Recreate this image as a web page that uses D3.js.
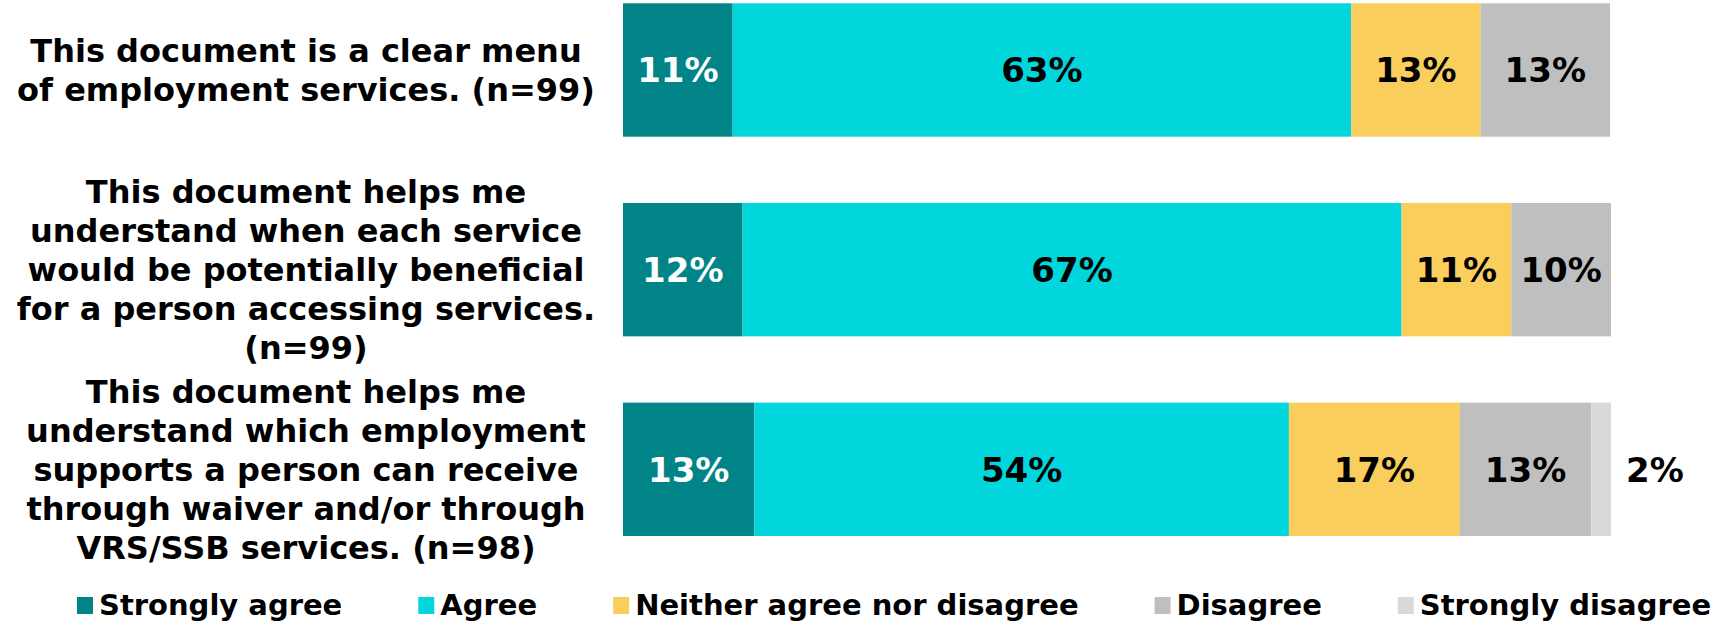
<!DOCTYPE html>
<html>
<head>
<meta charset="utf-8">
<script src="https://cdnjs.cloudflare.com/ajax/libs/d3/7.8.5/d3.min.js"></script>
<style>
  body { margin: 0; background: #fff; }
  text { font-family: "DejaVu Sans", Verdana, sans-serif; font-weight: bold; }
</style>
</head>
<body>
<div id="chart"></div>
<script>
var svgWidth = 1720;
var svgHeight = 622;

// question text, one array of lines for each bar
var questions = [
  ["This document is a clear menu", "of employment services. (n=99)"],
  ["This document helps me", "understand when each service", "would be potentially beneficial",
   "for a person accessing services.", "(n=99)"],
  ["This document helps me", "understand which employment", "supports a person can receive",
   "through waiver and/or through", "VRS/SSB services. (n=98)"]
];

var seriesNames = ["Strongly agree", "Agree", "Neither agree nor disagree", "Disagree", "Strongly disagree"];
var seriesColors = ["#008487", "#00D6DB", "#FACE5C", "#BFBFBF", "#D9D9D9"];
var labelColors = ["#ffffff", "#000000", "#000000", "#000000", "#000000"];

// percent of respondents, one value per question
var stronglyAgree = [11.1, 12.1, 13.3];
var agree = [62.6, 66.7, 54.1];
var neither = [13.1, 11.1, 17.3];
var disagree = [13.1, 10.1, 13.3];
var stronglyDisagree = [0, 0, 2.0];

var seriesValues = [stronglyAgree, agree, neither, disagree, stronglyDisagree];

// rows for d3.stack
var rows = questions.map((q, i) => {
  var row = { q: i };
  seriesNames.forEach((name, j) => { row[name] = seriesValues[j][i]; });
  return row;
});

var svg = d3.select("#chart")
  .append("svg")
  .attr("width", svgWidth)
  .attr("height", svgHeight);

var xScale = d3.scaleLinear()
  .domain([0, 100])
  .range([623, 1611]);

var yScale = d3.scaleBand()
  .domain(d3.range(questions.length))
  .range([3.3, 536])
  .paddingInner(0.332)
  .paddingOuter(0);

var stacked = d3.stack().keys(seriesNames)(rows);

// bar segments
var layers = svg.selectAll("g.layer")
  .data(stacked)
  .enter()
  .append("g")
  .attr("class", "layer")
  .attr("fill", (d, i) => seriesColors[i]);

layers.selectAll("rect")
  .data(d => d.filter(p => p[1] - p[0] > 0))
  .enter()
  .append("rect")
  .attr("x", d => xScale(d[0]))
  .attr("y", d => yScale(d.data.q))
  .attr("width", d => xScale(d[1]) - xScale(d[0]))
  .attr("height", yScale.bandwidth());

// value labels, tiny slices get their label just past the bar end
stacked.forEach((layer, i) => {
  svg.append("g").selectAll("text")
    .data(layer.filter(p => p[1] - p[0] > 0))
    .enter()
    .append("text")
    .attr("x", d => (d[1] - d[0]) < 5 ? xScale(d[1]) + 15 : (xScale(d[0]) + xScale(d[1])) / 2)
    .attr("y", d => yScale(d.data.q) + yScale.bandwidth() / 2)
    .attr("dy", "0.36em")
    .attr("text-anchor", d => (d[1] - d[0]) < 5 ? "start" : "middle")
    .attr("font-size", 34)
    .attr("fill", d => (d[1] - d[0]) < 5 ? "#000" : labelColors[i])
    .text(d => Math.round(d[1] - d[0]) + "%");
});

// question labels on the left
var lineHeight = 39;
questions.forEach((lines, i) => {
  var cy = yScale(i) + yScale.bandwidth() / 2;
  var t = svg.append("text")
    .attr("text-anchor", "middle")
    .attr("font-size", 32)
    .attr("fill", "#000");
  lines.forEach((line, k) => {
    t.append("tspan")
      .attr("x", 306)
      .attr("y", cy + (k - (lines.length - 1) / 2) * lineHeight)
      .attr("dy", "0.36em")
      .text(line);
  });
});

// legend along the bottom
var legend = svg.append("g").attr("transform", "translate(77, 0)");
var lx = 0;
seriesNames.forEach((name, i) => {
  legend.append("rect")
    .attr("x", lx)
    .attr("y", 597)
    .attr("width", 16)
    .attr("height", 17)
    .attr("fill", seriesColors[i]);
  var txt = legend.append("text")
    .attr("x", lx + 22)
    .attr("y", 615)
    .attr("font-size", 29)
    .attr("fill", "#000")
    .text(name);
  lx += 22 + txt.node().getComputedTextLength() + 76;
});
</script>
</body>
</html>
